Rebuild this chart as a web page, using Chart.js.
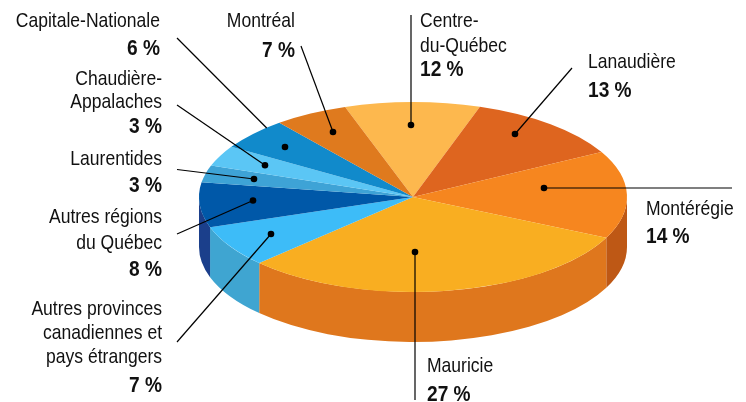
<!DOCTYPE html>
<html lang="fr">
<head>
<meta charset="utf-8">
<style>html,body{margin:0;padding:0;background:#fff}canvas{display:block}</style>
<script src="https://cdn.jsdelivr.net/npm/chart.js@4"></script>
</head>
<body>
<div style="width:746px;height:402px"><canvas id="c" width="746" height="402"></canvas></div>
<script>
// Regions, clockwise from the top of the pie.
const regions = ["Centre-du-Québec","Lanaudière","Montérégie","Mauricie","Autres provinces canadiennes et pays étrangers","Autres régions du Québec","Laurentides","Chaudière-Appalaches","Capitale-Nationale","Montréal"];
// Percentages printed on the labels of the reference.
const printedPercents = [12,13,14,27,7,8,3,3,6,7];
// Slice sizes as actually drawn in the reference artwork (share of the circle, read
// from the slice edges). The artwork does not draw its slices exactly to the printed figures.
const drawnShares = [10.2,12.1,14.9,30.7,7.1,7.6,2.9,3.5,5.4,5.6];
const topColors = ["#FDB84E","#DE651F","#F6861F","#F9AE21","#3DBCF8","#0058A8","#3EA3D6","#5BC6F5","#118ACB","#DF7A1E"];
const sideColors = ["#FDB84E","#DE651F","#BE5815","#DF771D","#3FA5D1","#1B3F8B","#3EA3D6","#5BC6F5","#118ACB","#DF7A1E"];

const FONT = '"Liberation Sans",Arial,sans-serif';
const TEXT_SQUEEZE = 0.835, BOLD_SQUEEZE = 0.89;
const RX = 214, RY = 95, DEPTH = 50, ROTATION = -18.5;

// Label blocks: [text lines], [baselines], x, align
const labelBlocks = [
  {i:0, lines:["Centre-","du-Québec"], ys:[27,52], py:76, x:420, a:"left"},
  {i:1, lines:["Lanaudière"], ys:[68], py:97, x:588, a:"left"},
  {i:2, lines:["Montérégie"], ys:[215], py:243, x:646, a:"left"},
  {i:3, lines:["Mauricie"], ys:[372], py:401, x:427, a:"left"},
  {i:4, lines:["Autres provinces","canadiennes et","pays étrangers"], ys:[315,339,363], py:392, x:162, a:"right"},
  {i:5, lines:["Autres régions","du Québec"], ys:[223,249], py:276, x:162, a:"right"},
  {i:6, lines:["Laurentides"], ys:[165], py:192, x:162, a:"right"},
  {i:7, lines:["Chaudière-","Appalaches"], ys:[85,108], py:133, x:162, a:"right"},
  {i:8, lines:["Capitale-Nationale"], ys:[27], py:55, x:160, a:"right"},
  {i:9, lines:["Montréal"], ys:[27], py:57, x:295, a:"right"}
];
// Leader lines: dot on the slice, far end towards the label.
const leaders = [
  {dot:[411,125], end:[411,15]},
  {dot:[515,134], end:[572,68]},
  {dot:[544,188], end:[732,188]},
  {dot:[415,252], end:[415,400]},
  {dot:[271,234], end:[177,342]},
  {dot:[253,200.5], end:[177,234]},
  {dot:[254,179], end:[177,169.5]},
  {dot:[265,165.3], end:[177,105]},
  {dot:[285,147], from:[266.7,128], end:[177,38]},
  {dot:[333,132], end:[301,46]}
];

function squeezedText(ctx, text, x, y, squeeze) {
  ctx.save();
  ctx.translate(x, y);
  ctx.scale(squeeze, 1);
  ctx.fillText(text, 0, 0);
  ctx.restore();
}

const pie3d = {
  id: "pie3d",
  beforeDatasetsDraw(chart) {
    const ctx = chart.ctx;
    const arcs = chart.getDatasetMeta(0).data;
    const cx = arcs[0].x, cy = arcs[0].y, R = arcs[0].outerRadius;
    // Side wall: only the front half of the disc (canvas angles 0..PI) shows it.
    arcs.forEach((el, i) => {
      const two = Math.PI * 2;
      let a0 = ((el.startAngle % two) + two) % two;
      if (a0 > Math.PI) a0 -= two;
      let a1 = a0 + (el.endAngle - el.startAngle);
      a0 = Math.max(a0, 0); a1 = Math.min(a1, Math.PI);
      if (a1 <= a0) return;
      ctx.save();
      ctx.fillStyle = sideColors[i];
      ctx.beginPath();
      ctx.ellipse(cx, cy, RX, RY, 0, a0, a1);
      ctx.lineTo(cx + RX * Math.cos(a1), cy + DEPTH + RY * Math.sin(a1));
      ctx.ellipse(cx, cy + DEPTH, RX, RY, 0, a1, a0, true);
      ctx.closePath();
      ctx.fill();
      ctx.restore();
    });
    // Tilt the disc: the library's own arcs are drawn through this transform.
    ctx.save();
    ctx.translate(cx, cy);
    ctx.scale(RX / R, RY / R);
    ctx.translate(-cx, -cy);
  },
  afterDatasetsDraw(chart) {
    const ctx = chart.ctx;
    ctx.restore();
    ctx.save();
    ctx.strokeStyle = "#000";
    ctx.fillStyle = "#000";
    ctx.lineWidth = 1.2;
    leaders.forEach(l => {
      const s = l.from || l.dot;
      ctx.beginPath();
      ctx.moveTo(s[0], s[1]);
      ctx.lineTo(l.end[0], l.end[1]);
      ctx.stroke();
      ctx.beginPath();
      ctx.arc(l.dot[0], l.dot[1], 3.3, 0, Math.PI * 2);
      ctx.fill();
    });
    ctx.fillStyle = "#111";
    ctx.textBaseline = "alphabetic";
    labelBlocks.forEach(b => {
      ctx.textAlign = b.a;
      ctx.font = "21px " + FONT;
      b.lines.forEach((t, k) => squeezedText(ctx, t, b.x, b.ys[k], TEXT_SQUEEZE));
      ctx.font = "bold 21.5px " + FONT;
      squeezedText(ctx, printedPercents[b.i] + " %", b.x, b.py, BOLD_SQUEEZE);
    });
    ctx.restore();
  }
};

new Chart(document.getElementById("c"), {
  type: "pie",
  data: {
    labels: regions,
    datasets: [{
      data: drawnShares,
      backgroundColor: topColors,
      borderWidth: 0,
      hoverOffset: 0
    }]
  },
  options: {
    responsive: false,
    animation: false,
    rotation: ROTATION,
    layout: { padding: { left: 216, right: 136, top: 0, bottom: 8 } },
    plugins: { legend: { display: false }, tooltip: { enabled: false }, title: { display: false } }
  },
  plugins: [pie3d]
});
</script>
</body>
</html>
